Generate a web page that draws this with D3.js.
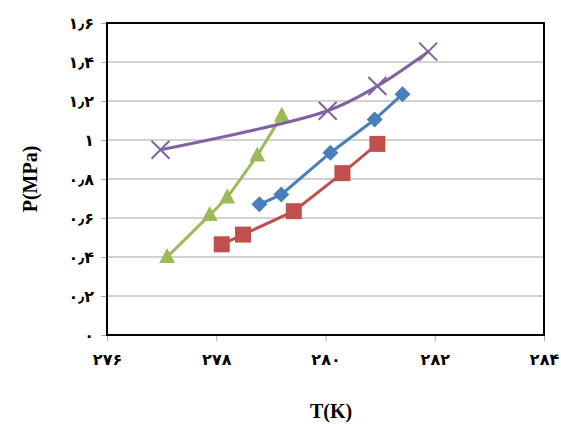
<!DOCTYPE html>
<html>
<head>
<meta charset="utf-8">
<script src="https://cdn.jsdelivr.net/npm/d3@7"></script>
<style>
  body { margin: 0; background: #fff; }
  svg text { font-family: "Liberation Serif", "DejaVu Sans", serif; font-weight: bold; }
  .tick text { font-family: "DejaVu Sans", sans-serif; font-weight: bold; font-size: 16px; fill: #000; }
</style>
</head>
<body>
<div id="chart"></div>
<script>
const xTicks = [276, 278, 280, 282, 284];
const yTicks = [0, 0.2, 0.4, 0.6, 0.8, 1, 1.2, 1.4, 1.6];

const blueT = [278.79, 279.19, 280.09, 280.9, 281.41];
const blueP = [0.67, 0.72, 0.935, 1.105, 1.235];

const redT = [278.1, 278.49, 279.42, 280.31, 280.95];
const redP = [0.465, 0.515, 0.635, 0.83, 0.98];

const greenT = [277.1, 277.88, 278.2, 278.75, 279.2];
const greenP = [0.4, 0.615, 0.705, 0.92, 1.125];

const purpleT = [276.98, 280.04, 280.95, 281.88];
const purpleP = [0.95, 1.15, 1.277, 1.453];

const width = 561, height = 425;
const plot = { left: 107, right: 544, top: 23, bottom: 335 };

const persian = (s) => String(s).replace(/\d/g, (d) => "۰۱۲۳۴۵۶۷۸۹"[d]).replace(".", "٫");

const x = d3.scaleLinear().domain([276, 284]).range([plot.left, plot.right]);
const y = d3.scaleLinear().domain([0, 1.6]).range([plot.bottom, plot.top]);

const svg = d3.select("#chart").append("svg")
    .attr("width", width)
    .attr("height", height);

// gridlines
svg.append("g")
    .selectAll("line")
    .data(yTicks.slice(1))
    .enter().append("line")
        .attr("x1", plot.left)
        .attr("x2", plot.right)
        .attr("y1", (d) => y(d))
        .attr("y2", (d) => y(d))
        .attr("stroke", "#a6a6a6")
        .attr("stroke-width", 1);

const yAxis = svg.append("g")
    .attr("transform", `translate(${plot.left},0)`)
    .call(d3.axisLeft(y).tickValues(yTicks).tickSize(6).tickPadding(7).tickFormat(persian));
yAxis.select(".domain").remove();
yAxis.selectAll(".tick line").attr("stroke", "#aaa");

const xAxis = svg.append("g")
    .attr("transform", `translate(0,${plot.bottom})`)
    .call(d3.axisBottom(x).tickValues(xTicks).tickSize(6).tickPadding(13).tickFormat(persian));
xAxis.select(".domain").remove();
xAxis.selectAll(".tick line").attr("stroke", "#aaa");

// frame
svg.append("rect")
    .attr("x", plot.left)
    .attr("y", plot.top)
    .attr("width", plot.right - plot.left)
    .attr("height", plot.bottom - plot.top)
    .attr("fill", "none")
    .attr("stroke", "#000")
    .attr("stroke-width", 2);

const series = [
    { t: greenT, p: greenP, color: "#9BBB59", marker: "triangle", curve: d3.curveLinear },
    { t: redT, p: redP, color: "#C0504D", marker: "square", curve: d3.curveLinear },
    { t: blueT, p: blueP, color: "#4A7EBB", marker: "diamond", curve: d3.curveLinear },
    { t: purpleT, p: purpleP, color: "#7F63A1", marker: "cross", curve: d3.curveCatmullRom.alpha(0.5) }
];

const line = (curve) => d3.line()
    .x((d) => x(d[0]))
    .y((d) => y(d[1]))
    .curve(curve);

series.forEach((s) => {
    const pts = s.t.map((t, i) => [t, s.p[i]]);
    const g = svg.append("g");

    g.append("path")
        .datum(pts)
        .attr("fill", "none")
        .attr("stroke", s.color)
        .attr("stroke-width", 3)
        .attr("d", line(s.curve));

    const marks = g.selectAll(".mark")
        .data(pts).enter()
        .append("g")
            .attr("transform", (d) => `translate(${x(d[0])},${y(d[1])})`);

    if (s.marker === "square") {
        marks.append("rect")
            .attr("x", -8).attr("y", -8)
            .attr("width", 16).attr("height", 16)
            .attr("fill", s.color);
    } else if (s.marker === "diamond") {
        marks.append("path")
            .attr("d", "M0,-8L8,0L0,8L-8,0Z")
            .attr("fill", s.color);
    } else if (s.marker === "triangle") {
        marks.append("path")
            .attr("d", "M0,-9L8,6L-8,6Z")
            .attr("fill", s.color);
    } else {
        marks.append("path")
            .attr("d", "M-9,-9L9,9M-9,9L9,-9")
            .attr("stroke", s.color)
            .attr("stroke-width", 2);
    }
});

svg.append("text")
    .attr("transform", `translate(37,${(plot.top + plot.bottom) / 2})rotate(-90)`)
    .attr("text-anchor", "middle")
    .attr("font-size", 20)
    .text("P(MPa)");

svg.append("text")
    .attr("x", 331)
    .attr("y", 418)
    .attr("text-anchor", "middle")
    .attr("font-size", 20)
    .text("T(K)");
</script>
</body>
</html>
